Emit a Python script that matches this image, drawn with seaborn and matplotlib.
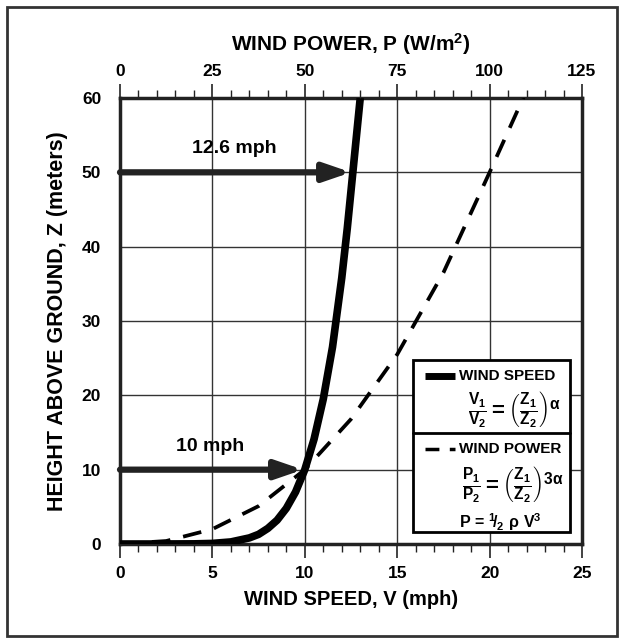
import matplotlib.pyplot as plt
from matplotlib.patches import Rectangle
from matplotlib.ticker import MultipleLocator
import seaborn as sns
import pandas as pd

# wind speed profile (V in mph, Z in meters)
speed_v = [0, 2, 4, 5, 6, 7, 7.5, 8, 8.5, 9, 9.5, 10, 10.5, 11, 11.5, 12, 12.3, 12.6, 13.0]
speed_z = [0, 0.0, 0.02, 0.08, 0.28, 0.82, 1.3, 2.1, 3.2, 4.8, 7.0, 10, 14.1, 19.5, 26.5, 35.8, 42.5, 50, 60]

# wind power profile, plotted against the speed scale (P = 5 V on the top axis)
power_v = [0, 2.5, 5, 7.5, 10, 12.5, 15, 17.5, 20, 21, 22]
power_z = [0, 0.4, 2.0, 5.1, 10, 16.8, 25.5, 36.5, 50, 55.5, 61]

speed_ticks = [0, 5, 10, 15, 20, 25]
power_ticks = [0, 25, 50, 75, 100, 125]
height_ticks = [0, 10, 20, 30, 40, 50, 60]

arrow_heights = [10, 50]
arrow_speeds = [10, 12.6]
arrow_labels = ["10 mph", "12.6 mph"]

sns.set_style("white")
plt.rcParams['font.family'] = ['Liberation Sans', 'DejaVu Sans']
plt.rcParams['font.weight'] = 'bold'
plt.rcParams['text.color'] = 'black'
plt.rcParams['xtick.color'] = 'black'
plt.rcParams['ytick.color'] = 'black'
plt.rcParams['axes.labelcolor'] = 'black'
plt.rcParams['mathtext.fontset'] = 'custom'
plt.rcParams['mathtext.rm'] = 'Liberation Sans:bold'
plt.rcParams['mathtext.it'] = 'Liberation Sans:bold'
plt.rcParams['mathtext.bf'] = 'Liberation Sans:bold'

W, H = 624, 643
fig = plt.figure(figsize=(W / 100, H / 100), dpi=100)
fig.patches.append(Rectangle((7 / W, 7 / H), (617 - 7) / W, (636 - 7) / H, transform=fig.transFigure,
                             fill=False, lw=2, edgecolor='#333333'))
ax = fig.add_axes([120 / W, 1 - 544 / H, (582 - 120) / W, (544 - 98) / H])

speed_df = pd.DataFrame({"V": speed_v, "Z": speed_z})
power_df = pd.DataFrame({"V": power_v, "Z": power_z})
sns.lineplot(data=speed_df, x="V", y="Z", ax=ax, color='black', lw=5.5, sort=False,
             solid_capstyle='butt', zorder=4)
sns.lineplot(data=power_df, x="V", y="Z", ax=ax, color='black', lw=2.7, sort=False, zorder=4)
ax.lines[-1].set_dashes([5, 3.5])

ax.set_xlim(0, 25)
ax.set_ylim(0, 60)
ax.set_xticks(speed_ticks)
ax.set_yticks(height_ticks)
ax.xaxis.set_minor_locator(MultipleLocator(1))
ax.yaxis.set_minor_locator(MultipleLocator(2))
ax.tick_params(axis='both', which='major', length=10, width=1.2, labelsize=12.5, direction='out',
               color='#222222')
ax.tick_params(axis='both', which='minor', length=6, width=1, direction='out', color='#222222')
ax.tick_params(axis='x', pad=6)
for lbl in ax.get_xticklabels() + ax.get_yticklabels():
    lbl.set_fontweight('bold')
ax.grid(True, which='major', color='#333333', lw=1)
for spine in ax.spines.values():
    spine.set_visible(True)
    spine.set_linewidth(2.5)
    spine.set_color('#222222')
ax.set_xlabel("WIND SPEED, V (mph)", fontsize=14.5, fontweight='bold', labelpad=6)
ax.set_ylabel("HEIGHT ABOVE GROUND, Z (meters)", fontsize=15.5, fontweight='bold', labelpad=10)

# top power axis
top = ax.twiny()
top.set_xlim(0, 125)
top.set_xticks(power_ticks)
top.xaxis.set_minor_locator(MultipleLocator(5))
top.tick_params(axis='x', which='major', length=10, width=1.2, labelsize=12.5, direction='out',
                color='#222222')
top.tick_params(axis='x', which='minor', length=6, width=1, direction='out', color='#222222')
for lbl in top.get_xticklabels():
    lbl.set_fontweight('bold')
for spine in top.spines.values():
    spine.set_visible(False)
top.set_xlabel("WIND POWER, P (W/m$^{2}$)", fontsize=15, fontweight='bold', labelpad=10)

# arrows
for h, v, txt in zip(arrow_heights, arrow_speeds, arrow_labels):
    ax.annotate("", xy=(v - 0.1, h), xytext=(0, h),
                arrowprops=dict(arrowstyle='-|>,head_length=1.6,head_width=0.55',
                                lw=4.5, color='#222222', shrinkA=0, shrinkB=0), zorder=5)
    ax.text(v * 0.49, h + 2, txt, ha='center', va='bottom', fontsize=14, fontweight='bold')

# legend box (pixel positions converted to axes fractions)
ax_w, ax_h = 582 - 120, 544 - 98
x0 = (413 - 120) / ax_w
x1 = (570 - 120) / ax_w
y_top = (544 - 360) / ax_h
y_mid = (544 - 433) / ax_h
y_bot = (544 - 532) / ax_h
ax.add_patch(Rectangle((x0, y_bot), x1 - x0, y_top - y_bot, transform=ax.transAxes,
                       facecolor='white', edgecolor='black', lw=2, zorder=6))
ax.plot([x0, x1], [y_mid, y_mid], transform=ax.transAxes, color='black', lw=2, zorder=7)
ax.plot([x0 + 0.025, x0 + 0.09], [y_top - 0.035, y_top - 0.035], transform=ax.transAxes,
        color='black', lw=5, zorder=7, solid_capstyle='butt')
ax.text(x0 + 0.1, y_top - 0.035, "WIND SPEED", transform=ax.transAxes, fontsize=11,
        fontweight='bold', va='center', zorder=8)
ax.text(x0 + 0.22, y_top - 0.11, r"$\frac{V_1}{V_2} = \left(\frac{Z_1}{Z_2}\right)^{\alpha}$",
        transform=ax.transAxes, fontsize=16, va='center', ha='center', zorder=8)
ax.plot([x0 + 0.025, x0 + 0.09], [y_mid - 0.035, y_mid - 0.035], transform=ax.transAxes,
        color='black', lw=2.5, dashes=[4, 3], zorder=7)
ax.text(x0 + 0.1, y_mid - 0.035, "WIND POWER", transform=ax.transAxes, fontsize=11,
        fontweight='bold', va='center', zorder=8)
ax.text(x0 + 0.215, y_mid - 0.115, r"$\frac{P_1}{P_2} = \left(\frac{Z_1}{Z_2}\right)^{3\alpha}$",
        transform=ax.transAxes, fontsize=16, va='center', ha='center', zorder=8)
ax.text(x0 + 0.19, y_mid - 0.2, r"P = $^1\!/_2\ \rho\ $V$^3$",
        transform=ax.transAxes, fontsize=11.5, va='center', ha='center', zorder=8)

fig.savefig("out.png", dpi=100)
